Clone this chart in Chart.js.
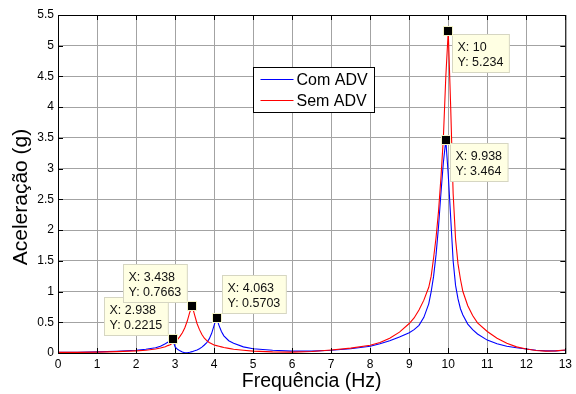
<!DOCTYPE html>
<html>
<head>
<meta charset="utf-8">
<script src="https://cdn.jsdelivr.net/npm/chart.js@4.4.1/dist/chart.umd.min.js"></script>
<style>
  html, body { margin: 0; padding: 0; background: #fff; }
  canvas { display: block; }
</style>
</head>
<body>
<canvas id="graficoFrequencia" width="576" height="394" style="width:576px;height:394px"></canvas>
<script>
// ===== Dados =====
const frequencias = [0, 0.5, 1, 1.5, 2, 2.25, 2.5, 2.625, 2.75, 2.8125, 2.875, 2.9375, 3, 3.0625, 3.125, 3.1875,
    3.25, 3.3125, 3.375, 3.4375, 3.5, 3.5625, 3.625, 3.6875, 3.75, 3.8125, 3.875, 3.9375, 4, 4.0625, 4.125,
    4.1875, 4.25, 4.375, 4.5, 4.75, 5, 5.5, 6, 6.5, 7, 7.5, 8, 8.25, 8.5, 8.75, 9, 9.125, 9.25, 9.375, 9.5,
    9.5625, 9.625, 9.6875, 9.75, 9.8125, 9.875, 9.9375, 10, 10.0625, 10.125, 10.1875, 10.25, 10.3125, 10.375,
    10.5, 10.625, 10.75, 11, 11.25, 11.5, 11.75, 12, 12.25, 12.5, 12.75, 13];

const comADV = [0.01, 0.012, 0.018, 0.028, 0.045, 0.06, 0.085, 0.11, 0.15, 0.175, 0.2, 0.2215, 0.1, 0.06, 0.035, 0.015,
    0.005, 0.005, 0.012, 0.022, 0.035, 0.05, 0.07, 0.095, 0.13, 0.17, 0.23, 0.32, 0.45, 0.5703, 0.45,
    0.35, 0.28, 0.2, 0.16, 0.1, 0.07, 0.045, 0.03, 0.03, 0.045, 0.07, 0.11, 0.15, 0.2, 0.26, 0.33, 0.38, 0.45, 0.58, 0.8,
    1.0, 1.25, 1.6, 2.05, 2.6, 3.1, 3.464, 2.9, 2.2, 1.5, 1.1, 0.88, 0.72, 0.62,
    0.47, 0.38, 0.31, 0.21, 0.15, 0.11, 0.085, 0.065, 0.045, 0.035, 0.035, 0.045];

const semADV = [0.01, 0.01, 0.015, 0.022, 0.035, 0.045, 0.065, 0.08, 0.1, 0.12, 0.135, 0.16, 0.19, 0.22, 0.27, 0.33,
    0.41, 0.52, 0.66, 0.7663, 0.62, 0.48, 0.38, 0.3, 0.24, 0.2, 0.17, 0.15, 0.13, 0.12, 0.11,
    0.1, 0.09, 0.075, 0.06, 0.045, 0.03, 0.018, 0.015, 0.025, 0.05, 0.08, 0.125, 0.17, 0.24, 0.34, 0.48, 0.57, 0.7, 0.86, 1.07,
    1.25, 1.55, 1.88, 2.3, 2.85, 3.5, 4.5, 5.234, 4.0, 2.6, 1.85, 1.45, 1.2, 1.0,
    0.77, 0.61, 0.49, 0.35, 0.24, 0.16, 0.1, 0.065, 0.04, 0.03, 0.035, 0.05];

const series = ['Com ADV', 'Sem ADV'];

// marcadores (data tips)
const marcadorX = [10, 9.938, 2.938, 3.438, 4.063];
const marcadorY = [5.234, 3.464, 0.2215, 0.7663, 0.5703];

const eixoX = { min: 0, max: 13, passo: 1, titulo: 'Frequência (Hz)' };
const eixoY = { min: 0, max: 5.5, passo: 0.5, titulo: 'Aceleração (g)' };

// ===== Aparência =====
const FONTE = '"Liberation Sans", Arial, sans-serif';
Chart.defaults.font.family = FONTE;
Chart.defaults.color = '#000';

const pontos = (valores) => frequencias.map((f, i) => ({ x: f, y: valores[i] }));

// moldura, ticks internos, legenda, data tips e título do eixo y
const estiloMatlab = {
    id: 'estiloMatlab',
    afterDraw(chart) {
        const { ctx, chartArea: a, scales: { x, y } } = chart;
        ctx.save();

        // ticks para dentro (4 lados)
        ctx.strokeStyle = '#000';
        ctx.lineWidth = 1;
        ctx.beginPath();
        x.ticks.forEach(t => {
            const px = Math.round(x.getPixelForValue(t.value)) + 0.5;
            ctx.moveTo(px, a.bottom); ctx.lineTo(px, a.bottom - 5);
            ctx.moveTo(px, a.top); ctx.lineTo(px, a.top + 5);
        });
        y.ticks.forEach(t => {
            const py = Math.round(y.getPixelForValue(t.value)) + 0.5;
            ctx.moveTo(a.left, py); ctx.lineTo(a.left + 5, py);
            ctx.moveTo(a.right, py); ctx.lineTo(a.right - 5, py);
        });
        ctx.stroke();
        ctx.strokeRect(a.left + 0.5, a.top + 0.5, a.right - a.left, a.bottom - a.top);

        // legenda
        const lx = 253.5, ly = 67.5, lw = 121, lh = 45;
        ctx.fillStyle = '#fff';
        ctx.fillRect(lx, ly, lw, lh);
        ctx.strokeStyle = '#000';
        ctx.strokeRect(lx, ly, lw, lh);
        ctx.font = '16px ' + FONTE;
        ctx.textBaseline = 'middle';
        ctx.textAlign = 'left';
        chart.data.datasets.forEach((ds, i) => {
            const yy = ly + 12 + i * 21;
            ctx.strokeStyle = ds.borderColor;
            ctx.beginPath();
            ctx.moveTo(lx + 7, yy); ctx.lineTo(lx + 40, yy);
            ctx.stroke();
            ctx.fillStyle = '#000';
            ctx.fillText(ds.label, lx + 43, yy + 1.5);
        });

        // data tips
        const lados = ['se', 'se', 'nw', 'nw', 'ne'];
        ctx.font = '12.5px ' + FONTE;
        marcadorX.forEach((mx, i) => {
            const px = x.getPixelForValue(mx);
            const py = y.getPixelForValue(marcadorY[i]);
            const l1 = 'X: ' + mx, l2 = 'Y: ' + marcadorY[i];
            const w = Math.max(ctx.measureText(l1).width, ctx.measureText(l2).width) + 11;
            const h = 38;
            let bx, by;
            if (lados[i] === 'se') { bx = px + 4; by = py + 3; }
            else if (lados[i] === 'nw') { bx = px - 5 - w; by = py - 4 - h; }
            else { bx = px + 5; by = py - 5 - h; }
            bx = Math.round(bx) + 0.5; by = Math.round(by) + 0.5;
            ctx.fillStyle = '#ffffe3';
            ctx.fillRect(bx, by, w, h);
            ctx.strokeStyle = '#d6d6c2';
            ctx.strokeRect(bx, by, w, h);
            ctx.fillStyle = '#111';
            ctx.fillText(l1, bx + 5, by + 13.5);
            ctx.fillText(l2, bx + 5, by + 28.5);

            ctx.fillStyle = '#000';
            ctx.fillRect(Math.round(px) - 4, Math.round(py) - 4, 8, 8);
            ctx.strokeStyle = '#f4f4c8';
            ctx.strokeRect(Math.round(px) - 4.5, Math.round(py) - 4.5, 9, 9);
        });

        // título do eixo y
        ctx.translate(21, 197);
        ctx.rotate(-Math.PI / 2);
        ctx.font = '21px ' + FONTE;
        ctx.textAlign = 'center';
        ctx.textBaseline = 'middle';
        ctx.fillStyle = '#000';
        ctx.fillText(eixoY.titulo, 0, 0);
        ctx.restore();
    }
};

const grade = { color: '#a3a3a3', drawTicks: false, lineWidth: 1 };
const borda = { display: false };
const fonteTicks = { family: FONTE, size: 12 };

new Chart(document.getElementById('graficoFrequencia').getContext('2d'), {
    type: 'scatter',
    data: {
        datasets: [
            { label: series[0], data: pontos(comADV), borderColor: '#0000ff', backgroundColor: '#0000ff',
              showLine: true, pointRadius: 0, borderWidth: 1.1, tension: 0, order: 1 },
            { label: series[1], data: pontos(semADV), borderColor: '#ff0000', backgroundColor: '#ff0000',
              showLine: true, pointRadius: 0, borderWidth: 1.1, tension: 0, order: 0 }
        ]
    },
    options: {
        responsive: false,
        animation: false,
        events: [],
        layout: { padding: { top: 15, right: 7, left: 0, bottom: 0 } },
        plugins: { legend: { display: false }, tooltip: { enabled: false } },
        scales: {
            x: {
                type: 'linear', min: eixoX.min, max: eixoX.max,
                ticks: { stepSize: eixoX.passo, padding: 4, font: fonteTicks, maxRotation: 0, autoSkip: false, color: '#000' },
                grid: grade, border: borda,
                title: { display: true, text: eixoX.titulo, font: { family: FONTE, size: 19.5 }, color: '#000', padding: { top: 0, bottom: 1 } },
                afterFit: (s) => { s.height = 41; }
            },
            y: {
                type: 'linear', min: eixoY.min, max: eixoY.max,
                ticks: { stepSize: eixoY.passo, padding: 4, font: fonteTicks, color: '#000',
                         callback: (v) => String(+v.toFixed(2)) },
                grid: grade, border: borda,
                afterFit: (s) => { s.width = 58; }
            }
        }
    },
    plugins: [estiloMatlab]
});
</script>
</body>
</html>
